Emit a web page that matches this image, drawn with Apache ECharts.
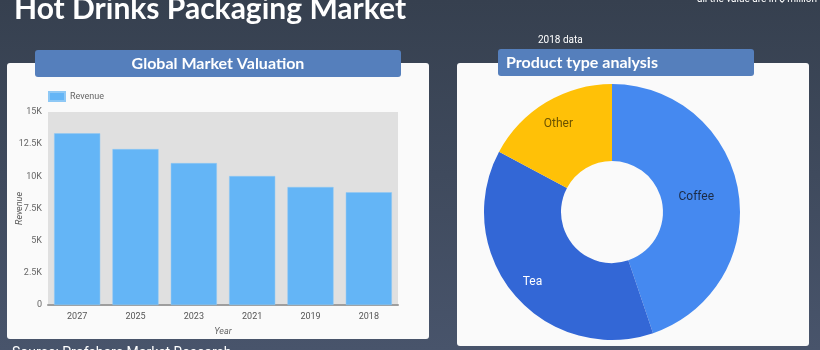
<!DOCTYPE html>
<html>
<head>
<meta charset="utf-8">
<script src="https://cdn.jsdelivr.net/npm/echarts@6/dist/echarts.min.js"></script>
<style>
html,body{margin:0;padding:0;width:820px;height:350px;overflow:hidden;}
#c{width:820px;height:350px;}
</style>
</head>
<body>
<div id="c"></div>
<script>
const years = ['2027', '2025', '2023', '2021', '2019', '2018'];
const revenue = [13340, 12120, 11030, 10020, 9170, 8760];
const productTypes = ['Coffee', 'Tea', 'Other'];
const productShares = [44.8, 38.0, 17.2];
const productColors = ['#4589f0', '#3367d6', '#ffc107'];
const productLabelColors = ['#1c2b45', '#ffffff', '#6b5200'];
const productLabelOffsets = [[-7, 0], [-9, 10], [-6, -9]];
const yTickLabels = {0: '0', 2500: '2.5K', 5000: '5K', 7500: '7.5K', 10000: '10K', 12500: '12.5K', 15000: '15K'};

const chart = echarts.init(document.getElementById('c'), null, {renderer: 'canvas'});
const option = {
  animation: false,
  backgroundColor: {
    type: 'linear', x: 0, y: 0, x2: 0, y2: 1,
    colorStops: [{offset: 0, color: '#36404f'}, {offset: 1, color: '#48546b'}]
  },
  graphic: [
    {type: 'rect', z: -10, shape: {x: 7, y: 63, width: 422, height: 276, r: 3}, style: {fill: '#fafafa'}},
    {type: 'rect', z: -10, shape: {x: 457, y: 63, width: 352, height: 283, r: 3}, style: {fill: '#fafafa'}},
    {type: 'rect', z: 20, shape: {x: 35, y: 50, width: 366, height: 27, r: 3}, style: {fill: '#557fbc'}},
    {type: 'rect', z: 20, shape: {x: 498, y: 49, width: 256, height: 27, r: 3}, style: {fill: '#557fbc'}},
    {type: 'text', z: 21, x: 218, y: 63.5, style: {text: 'Global Market Valuation', fill: '#ffffff', font: 'bold 16px Lato', align: 'center', verticalAlign: 'middle'}},
    {type: 'text', z: 21, x: 506, y: 63, style: {text: 'Product type analysis', fill: '#ffffff', font: 'bold 16px Lato', align: 'left', verticalAlign: 'middle'}},
    {type: 'text', z: 21, x: 14, y: -6, style: {text: 'Hot Drinks Packaging Market', fill: '#ffffff', font: 'bold 30px Lato', align: 'left', verticalAlign: 'top'}},
    {type: 'text', z: 21, x: 817, y: -6, style: {text: 'all the value are in $ million', fill: '#ffffff', font: '10px Roboto', align: 'right', verticalAlign: 'top'}},
    {type: 'text', z: 21, x: 538, y: 40, style: {text: '2018 data', fill: '#ffffff', font: '10px Roboto', align: 'left', verticalAlign: 'middle'}},
    {type: 'text', z: 21, x: 12, y: 346, style: {text: 'Source: Profshare Market Research', fill: '#ffffff', font: '14px Roboto', align: 'left', verticalAlign: 'top'}}
  ],
  legend: {
    data: ['Revenue'], left: 48, top: 91, padding: 0, icon: 'rect', itemWidth: 16, itemHeight: 9, itemGap: 6,
    textStyle: {fontSize: 9, color: '#666', fontFamily: 'Roboto'}
  },
  grid: {left: 48, top: 112, width: 350, height: 193, show: true, backgroundColor: '#e0e0e0', borderWidth: 0, containLabel: false},
  xAxis: {
    type: 'category', data: years,
    axisLine: {lineStyle: {color: '#9e9e9e', width: 2}},
    axisTick: {show: false},
    axisLabel: {fontSize: 9, color: '#555', fontFamily: 'Roboto', margin: 7},
    name: 'Year', nameLocation: 'middle', nameGap: 22, nameMoveOverlap: false,
    nameTextStyle: {fontSize: 9, color: '#666', fontStyle: 'italic', fontFamily: 'Roboto'}
  },
  yAxis: {
    type: 'value', min: 0, max: 15000, interval: 2500,
    axisLine: {show: false}, axisTick: {show: false}, splitLine: {show: false},
    axisLabel: {fontSize: 9, color: '#666', fontFamily: 'Roboto', margin: 6, formatter: v => yTickLabels[v]},
    name: 'Revenue', nameLocation: 'middle', nameGap: 24, nameMoveOverlap: false,
    nameTextStyle: {fontSize: 9, color: '#555', fontStyle: 'italic', fontFamily: 'Roboto'}
  },
  series: [
    {
      type: 'bar', name: 'Revenue', data: revenue, barCategoryGap: '21%',
      itemStyle: {color: '#64b5f6', borderColor: '#8ec8f5', borderWidth: 0.5}
    },
    {
      type: 'pie', name: 'Product', center: [612, 212], radius: [51, 128],
      startAngle: 90, clockwise: true,
      label: {position: 'inner', fontSize: 12, fontFamily: 'Roboto'},
      labelLine: {show: false},
      data: productTypes.map((n, i) => ({
        name: n, value: productShares[i],
        itemStyle: {color: productColors[i]},
        label: {color: productLabelColors[i], offset: productLabelOffsets[i]}
      }))
    }
  ]
};
chart.setOption(option);
</script>
</body>
</html>
